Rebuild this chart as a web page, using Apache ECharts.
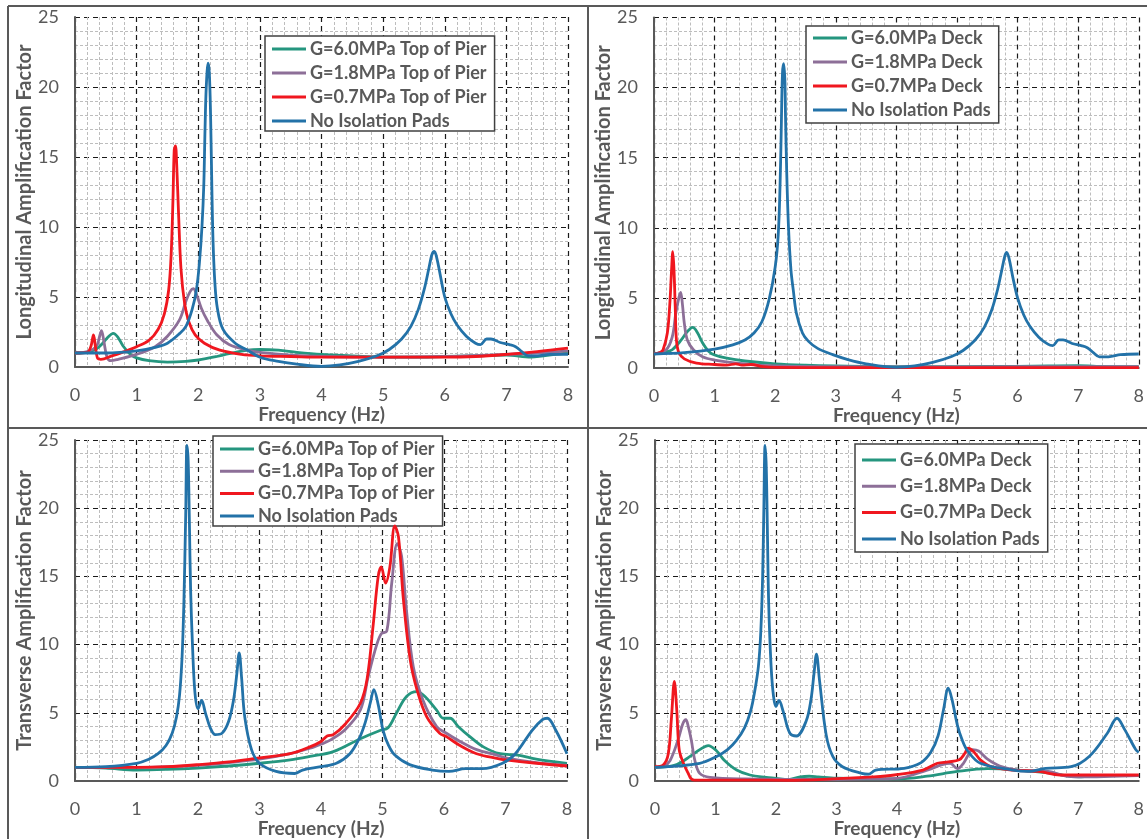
<!DOCTYPE html>
<html><head><meta charset="utf-8">
<script src="https://cdn.jsdelivr.net/npm/echarts@6/dist/echarts.min.js"></script>
<style>html,body{margin:0;padding:0;background:#fff}#c{width:1147px;height:839px}</style>
</head><body><div id="c"></div>
<script>
// ---- tick labels / categories ----
const xTicks = [0,1,2,3,4,5,6,7,8];
const yTicks = [0,5,10,15,20,25];
const namesPier = ['G=6.0MPa Top of Pier','G=1.8MPa Top of Pier','G=0.7MPa Top of Pier','No Isolation Pads'];
const namesDeck = ['G=6.0MPa Deck','G=1.8MPa Deck','G=0.7MPa Deck','No Isolation Pads'];
const xName = 'Frequency (Hz)';
const yNameLong = 'Longitudinal Amplification Factor';
const yNameTrans = 'Transverse Amplification Factor';

// ---- Longitudinal, Top of Pier ----
const longPierG60 = [[0,1.0],[0.2,1.05],[0.35,1.3],[0.45,1.7],[0.55,2.2],[0.62,2.4],[0.7,2.1],[0.78,1.5],[0.9,0.9],[1.0,0.65],[1.2,0.45],[1.5,0.35],[1.8,0.4],[2.0,0.5],[2.3,0.75],[2.5,0.95],[2.8,1.2],[3.0,1.25],[3.3,1.2],[3.6,1.05],[4.0,0.9],[4.5,0.8],[5.0,0.7],[5.5,0.7],[6.0,0.75],[6.5,0.8],[7.0,0.85],[7.4,0.7],[7.6,0.8],[8.0,1.0]];
const longPierG18 = [[0,1.0],[0.2,1.1],[0.35,1.5],[0.4,2.2],[0.43,2.6],[0.47,1.8],[0.52,0.7],[0.58,0.45],[0.7,0.55],[1.0,0.9],[1.3,1.45],[1.5,2.2],[1.7,3.4],[1.8,4.7],[1.87,5.4],[1.92,5.6],[1.97,5.2],[2.05,4.2],[2.15,3.3],[2.3,2.3],[2.5,1.6],[2.8,1.2],[3.0,1.05],[3.5,0.85],[4.0,0.75],[5.0,0.7],[6.0,0.75],[7.0,0.9],[7.5,1.0],[8.0,1.15]];
const longPierG07 = [[0,1.0],[0.2,1.05],[0.26,1.5],[0.3,2.3],[0.33,1.5],[0.37,0.6],[0.42,0.55],[0.6,0.8],[0.8,1.1],[1.0,1.45],[1.2,1.9],[1.35,2.7],[1.45,3.8],[1.52,5.5],[1.56,8],[1.59,12],[1.61,15.5],[1.63,15.8],[1.65,14.5],[1.68,11],[1.72,7],[1.78,4.5],[1.85,3.2],[1.95,2.3],[2.1,1.7],[2.35,1.2],[2.7,0.9],[3.0,0.8],[3.5,0.75],[4.0,0.7],[5.0,0.7],[6.0,0.7],[6.5,0.75],[7.0,0.9],[7.5,1.1],[8.0,1.35]];
const longPierNone = [[0,1.0],[0.5,1.0],[1.0,1.15],[1.3,1.4],[1.5,1.7],[1.7,2.4],[1.8,2.9],[1.9,4.1],[1.97,5.5],[2.02,7.5],[2.06,10],[2.09,13],[2.11,17],[2.13,20],[2.16,21.7],[2.18,21],[2.2,18],[2.22,13],[2.24,9],[2.27,6],[2.31,4.2],[2.4,2.7],[2.6,1.7],[2.8,1.2],[3.0,0.7],[3.3,0.4],[3.6,0.2],[4.0,0.05],[4.3,0.15],[4.6,0.4],[4.9,0.8],[5.1,1.25],[5.3,2.0],[5.45,2.9],[5.57,4.1],[5.67,5.6],[5.74,7],[5.79,8.0],[5.83,8.25],[5.87,7.8],[5.93,6.5],[6.0,5],[6.1,3.8],[6.2,3.0],[6.35,2.2],[6.5,1.7],[6.58,1.6],[6.68,2.0],[6.75,2.0],[6.9,1.75],[7.05,1.6],[7.15,1.45],[7.25,1.1],[7.35,0.8],[7.5,0.8],[7.7,0.9],[8.0,0.9]];

// ---- Longitudinal, Deck ----
const longDeckG60 = [[0,1.0],[0.2,1.15],[0.3,1.3],[0.45,2.0],[0.55,2.6],[0.64,2.9],[0.72,2.5],[0.8,1.8],[0.9,1.2],[1.0,0.93],[1.2,0.7],[1.5,0.5],[2.0,0.3],[2.5,0.2],[3.0,0.15],[4.0,0.1],[5.0,0.1],[6.0,0.12],[6.5,0.15],[7.0,0.17],[7.3,0.12],[8.0,0.1]];
const longDeckG18 = [[0,1.0],[0.2,1.3],[0.3,2.2],[0.36,3.9],[0.41,5.0],[0.44,5.4],[0.47,4.5],[0.5,3.2],[0.55,2.0],[0.65,1.3],[0.8,0.8],[1.0,0.57],[1.5,0.3],[2.0,0.15],[3.0,0.1],[5.0,0.08],[7.0,0.1],[8.0,0.1]];
const longDeckG07 = [[0,1.0],[0.1,1.1],[0.15,1.3],[0.22,2.5],[0.26,4.5],[0.29,7.0],[0.31,8.3],[0.33,7.0],[0.35,4.4],[0.37,2.0],[0.41,1.1],[0.5,0.65],[0.7,0.35],[1.0,0.25],[1.2,0.2],[1.35,0.3],[1.45,0.2],[1.6,0.25],[1.8,0.1],[2.0,0.05],[3.0,0.03],[8.0,0.03]];
const longDeckNone = [[0,1.0],[0.5,1.1],[1.0,1.35],[1.3,1.65],[1.5,2.0],[1.65,2.5],[1.78,3.3],[1.9,4.9],[2.0,7.2],[2.05,9.5],[2.08,13],[2.1,17],[2.12,21],[2.14,21.7],[2.16,20.5],[2.17,18],[2.19,14],[2.22,10],[2.26,7],[2.3,5.5],[2.35,3.9],[2.45,2.5],[2.55,1.9],[2.7,1.4],[2.95,0.95],[3.2,0.6],[3.5,0.3],[4.0,0.05],[4.3,0.15],[4.6,0.4],[4.9,0.8],[5.1,1.25],[5.3,2.0],[5.45,2.9],[5.57,4.1],[5.67,5.6],[5.74,7],[5.79,8.0],[5.82,8.25],[5.86,7.8],[5.92,6.5],[6.0,5],[6.1,3.8],[6.2,3.0],[6.35,2.2],[6.5,1.7],[6.58,1.6],[6.68,2.0],[6.75,2.0],[6.9,1.75],[7.05,1.6],[7.15,1.45],[7.25,1.1],[7.35,0.8],[7.5,0.8],[7.7,0.95],[8.0,1.0]];

// ---- Transverse, Top of Pier ----
const transPierG60 = [[0,1.0],[0.5,0.95],[1.0,0.8],[1.5,0.85],[2.0,0.95],[2.5,1.1],[3.0,1.3],[3.5,1.55],[3.82,1.8],[4.2,2.15],[4.64,3.1],[4.96,3.7],[5.09,3.9],[5.23,5.0],[5.39,6.2],[5.56,6.55],[5.69,6.2],[5.88,5.2],[5.99,4.6],[6.1,4.6],[6.23,4.0],[6.42,3.25],[6.64,2.5],[6.91,2.0],[7.2,1.9],[7.5,1.6],[8.0,1.3]];
const transPierG18 = [[0,1.0],[1.0,1.0],[2.0,1.15],[2.5,1.35],[3.0,1.6],[3.5,2.0],[3.82,2.4],[4.0,2.7],[4.15,3.0],[4.4,3.8],[4.64,5.2],[4.77,7.7],[4.9,9.9],[4.98,10.8],[5.07,11.0],[5.15,14.5],[5.24,17.4],[5.31,16.5],[5.39,12.5],[5.5,8.4],[5.66,5.9],[5.88,4.0],[6.04,3.5],[6.26,2.9],[6.53,2.3],[6.86,1.9],[7.0,1.7],[7.5,1.35],[8.0,1.15]];
const transPierG07 = [[0,1.0],[1.0,1.0],[1.5,1.05],[2.0,1.2],[2.5,1.4],[3.0,1.7],[3.5,2.0],[3.82,2.5],[4.0,2.9],[4.1,3.3],[4.2,3.4],[4.4,4.2],[4.64,5.7],[4.75,7.5],[4.85,11.5],[4.93,15.0],[4.98,15.7],[5.05,14.5],[5.12,15.7],[5.2,18.7],[5.26,17.9],[5.34,13.3],[5.45,8.9],[5.56,6.7],[5.72,4.7],[5.93,3.5],[6.04,3.25],[6.26,2.6],[6.53,2.0],[6.86,1.66],[7.0,1.55],[7.5,1.3],[8.0,1.1]];
const transPierNone = [[0,1.0],[0.5,1.05],[1.0,1.3],[1.2,1.6],[1.35,2.0],[1.48,2.6],[1.58,3.5],[1.65,4.7],[1.7,6.3],[1.74,9],[1.77,13],[1.8,19.5],[1.82,24.6],[1.84,23.5],[1.86,19],[1.88,14],[1.91,10],[1.95,6.5],[2.0,5.3],[2.06,5.9],[2.12,5.0],[2.2,3.9],[2.28,3.4],[2.39,3.5],[2.5,4.4],[2.58,6.0],[2.63,7.8],[2.67,9.4],[2.71,7.5],[2.76,4.7],[2.87,2.3],[3.0,1.3],[3.27,0.7],[3.57,0.55],[3.7,0.8],[4.0,1.05],[4.25,1.3],[4.47,2.0],[4.62,3.1],[4.72,4.3],[4.8,5.7],[4.86,6.7],[4.93,5.6],[5.01,3.7],[5.1,2.6],[5.2,1.9],[5.44,1.2],[5.81,0.8],[6.08,0.7],[6.35,0.9],[6.62,0.9],[6.95,1.3],[7.16,2.0],[7.43,3.7],[7.6,4.5],[7.68,4.6],[7.82,3.7],[8.0,2.0]];

// ---- Transverse, Deck ----
const transDeckG60 = [[0,1.0],[0.2,1.05],[0.36,1.2],[0.58,1.8],[0.74,2.3],[0.88,2.6],[1.02,2.2],[1.15,1.5],[1.35,0.8],[1.57,0.44],[1.84,0.27],[2.0,0.2],[2.2,0.1],[2.4,0.3],[2.55,0.35],[2.7,0.3],[3.0,0.2],[4.0,0.15],[4.5,0.35],[5.0,0.7],[5.5,0.9],[6.0,0.8],[6.5,0.6],[7.0,0.3],[7.5,0.4],[8.0,0.4]];
const transDeckG18 = [[0,1.0],[0.15,1.1],[0.25,1.5],[0.38,3.0],[0.46,4.2],[0.51,4.5],[0.55,4.0],[0.6,3.0],[0.66,1.5],[0.74,0.56],[0.91,0.27],[1.5,0.15],[2.5,0.12],[3.5,0.15],[4.0,0.2],[4.5,0.8],[4.75,1.2],[4.88,1.3],[5.0,0.9],[5.1,1.3],[5.18,1.9],[5.25,2.3],[5.35,2.2],[5.5,1.6],[5.7,1.1],[6.0,0.8],[6.5,0.7],[6.8,0.35],[7.0,0.3],[8.0,0.4]];
const transDeckG07 = [[0,1.05],[0.14,1.2],[0.22,2.0],[0.27,4.5],[0.32,7.3],[0.36,5.2],[0.4,2.3],[0.47,1.3],[0.55,0.56],[0.59,0.2],[0.65,0.07],[1.5,0.07],[2.2,0.05],[2.94,0.15],[3.6,0.3],[3.96,0.44],[4.43,0.8],[4.67,1.3],[4.85,1.4],[5.03,1.55],[5.12,2.0],[5.18,2.4],[5.27,2.15],[5.38,1.55],[5.56,1.05],[5.92,0.8],[6.34,0.7],[6.7,0.44],[8.0,0.44]];
const transDeckNone = [[0,1.0],[0.74,1.3],[1.02,1.8],[1.2,2.3],[1.35,3.0],[1.48,3.9],[1.58,5.1],[1.65,6.6],[1.71,8.4],[1.75,11],[1.78,15],[1.8,20],[1.82,24.6],[1.84,23],[1.86,18],[1.88,13],[1.92,8.4],[1.96,6.2],[2.0,5.45],[2.05,5.9],[2.12,5.1],[2.23,3.5],[2.34,3.3],[2.5,4.4],[2.58,6.0],[2.63,7.9],[2.67,9.3],[2.72,7.4],[2.83,3.4],[2.94,1.8],[3.1,1.05],[3.42,0.56],[3.53,0.5],[3.65,0.8],[4.12,0.93],[4.4,1.35],[4.56,2.1],[4.68,3.3],[4.77,5.2],[4.85,6.8],[4.91,6.0],[5.0,4.1],[5.08,3.0],[5.17,2.2],[5.38,1.3],[5.92,0.8],[6.16,0.7],[6.46,0.93],[6.88,1.05],[7.18,1.8],[7.48,3.5],[7.64,4.6],[7.77,3.75],[7.95,2.3],[8.0,2.1]];

const colors = ['#25967f','#8d6f98','#f0171f','#2372a8'];
const FONT = 'Lato, "Open Sans", sans-serif';
const GRAY = '#595959';

const panels = [
  {grid:{left:75,top:17,width:493,height:350}, yName:yNameLong, names:namesPier, data:[longPierG60,longPierG18,longPierG07,longPierNone], legend:{left:265,top:36}, gap:6, pad:[4,8,1,7]},
  {grid:{left:654,top:17.5,width:486,height:350.5}, yName:yNameLong, names:namesDeck, data:[longDeckG60,longDeckG18,longDeckG07,longDeckNone], legend:{left:806,top:26}, gap:6, pad:[3,8,4,7]},
  {grid:{left:75,top:440,width:492,height:341}, yName:yNameTrans, names:namesPier, data:[transPierG60,transPierG18,transPierG07,transPierNone], legend:{left:213,top:436}, gap:4.3, pad:[4,8,1,7]},
  {grid:{left:655,top:440,width:485,height:341}, yName:yNameTrans, names:namesDeck, data:[transDeckG60,transDeckG18,transDeckG07,transDeckNone], legend:{left:855,top:444}, gap:8.3, pad:[7,8,4,7]}
];

const option = {animation:false, grid:[], xAxis:[], yAxis:[], legend:[], series:[], graphic:[]};
panels.forEach((p,i)=>{
  option.grid.push(Object.assign({containLabel:false}, p.grid));
  option.xAxis.push({
    type:'value', gridIndex:i, min:xTicks[0], max:xTicks[xTicks.length-1], interval:1,
    name:xName, nameLocation:'middle', nameGap:37,
    nameTextStyle:{color:GRAY, fontFamily:FONT, fontWeight:'bold', fontSize:19},
    axisLine:{show:true, onZero:false, lineStyle:{color:GRAY, width:2}},
    axisTick:{show:false},
    axisLabel:{color:GRAY, fontFamily:FONT, fontSize:18, margin:19},
    splitLine:{show:true, lineStyle:{color:'#1a1a1a', type:[5,4], width:1.2}},
    minorTick:{show:false, splitNumber:5},
    minorSplitLine:{show:true, lineStyle:{color:'#bdbdbd', type:[3,2], width:1}}
  });
  option.yAxis.push({
    type:'value', gridIndex:i, min:yTicks[0], max:yTicks[yTicks.length-1], interval:5,
    name:p.yName, nameLocation:'middle', nameGap:36, nameRotate:90,
    nameTextStyle:{color:GRAY, fontFamily:FONT, fontWeight:'bold', fontSize:20},
    axisLine:{show:true, onZero:false, lineStyle:{color:GRAY, width:2}},
    axisTick:{show:false},
    axisLabel:{color:GRAY, fontFamily:FONT, fontSize:18, margin:16},
    splitLine:{show:true, lineStyle:{color:'#1a1a1a', type:[5,4], width:1.2}},
    minorTick:{show:false, splitNumber:5},
    minorSplitLine:{show:true, lineStyle:{color:'#bdbdbd', type:[3,2], width:1}}
  });
  option.legend.push({
    orient:'vertical', left:p.legend.left, top:p.legend.top, data:p.names,
    icon:'rect', itemWidth:34, itemHeight:3, itemGap:p.gap,
    padding:p.pad, backgroundColor:'#fff', borderColor:'#404040', borderWidth:1.5,
    textStyle:{color:GRAY, fontFamily:FONT, fontWeight:'bold', fontSize:18, lineHeight:18, padding:[0,0,0,-1]},
    selectedMode:false
  });
  p.data.forEach((d,k)=>{
    option.series.push({
      type:'line', name:p.names[k], xAxisIndex:i, yAxisIndex:i, data:d,
      showSymbol:false, symbol:'none', smooth:0.35,
      color:colors[k], lineStyle:{color:colors[k], width:2.8, join:'round'}, z:2+k
    });
  });
});
// panel frames
const frameStyle = {stroke:'#595959', lineWidth:2};
option.graphic = [
  {type:'line', shape:{x1:8,y1:6,x2:1147,y2:6}, style:frameStyle, silent:true},
  {type:'line', shape:{x1:8,y1:6,x2:8,y2:839}, style:frameStyle, silent:true},
  {type:'line', shape:{x1:588,y1:6,x2:588,y2:839}, style:frameStyle, silent:true},
  {type:'line', shape:{x1:8,y1:428,x2:1147,y2:428}, style:frameStyle, silent:true}
];
const chart = echarts.init(document.getElementById('c'), null, {renderer:'canvas'});
chart.setOption(option);
</script></body></html>
